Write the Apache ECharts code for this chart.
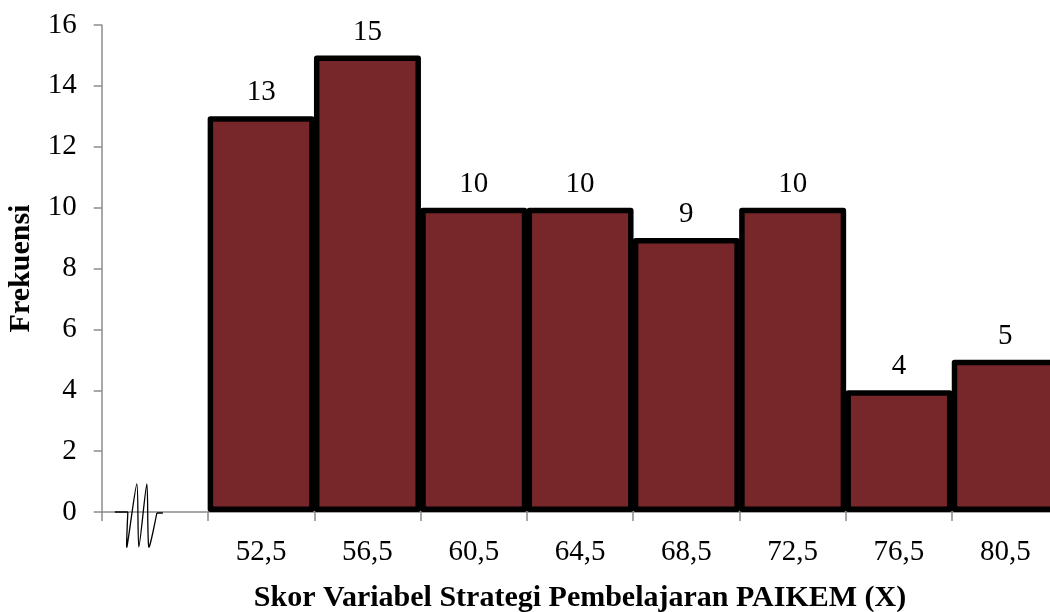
<!DOCTYPE html>
<html>
<head>
<meta charset="utf-8">
<script src="https://cdn.jsdelivr.net/npm/echarts@6/dist/echarts.min.js"></script>
<style>
  html, body { margin: 0; padding: 0; background: #ffffff; }
  #chart { width: 1050px; height: 612px; }
</style>
</head>
<body>
<div id="chart"></div>
<script>
// Histogram of PAIKEM strategy scores (class midpoints) and their frequencies.
// The first, empty category holds the axis-break mark.
const categories = ['', '52,5', '56,5', '60,5', '64,5', '68,5', '72,5', '76,5', '80,5'];
const frequencies = ['-', 13, 15, 10, 10, 9, 10, 4, 5];
const yTicks = { min: 0, max: 16, interval: 2 };

const FONT = '"Liberation Serif", "Times New Roman", serif';

const chart = echarts.init(document.getElementById('chart'));

chart.setOption({
  backgroundColor: '#ffffff',
  animation: false,
  grid: {
    left: 101.7, top: 25, width: 956.7, bottom: 100,
    containLabel: false, outerBoundsMode: 'none'
  },
  xAxis: {
    type: 'category',
    data: categories,
    boundaryGap: true,
    name: 'Skor Variabel Strategi Pembelajaran PAIKEM (X)',
    nameLocation: 'middle',
    nameGap: 71,
    nameTextStyle: { fontFamily: FONT, fontWeight: 'bold', fontSize: 30, color: '#000' },
    axisLine: { lineStyle: { color: '#8c8c8c', width: 1.5 } },
    axisTick: { show: true, length: 9, lineStyle: { color: '#8c8c8c', width: 1.5 } },
    axisLabel: { fontFamily: FONT, fontSize: 29, color: '#000', margin: 26 },
    splitLine: { show: false }
  },
  yAxis: {
    type: 'value',
    min: yTicks.min,
    max: yTicks.max,
    interval: yTicks.interval,
    name: 'Frekuensi',
    nameLocation: 'middle',
    nameGap: 65,
    nameRotate: 90,
    nameTextStyle: { fontFamily: FONT, fontWeight: 'bold', fontSize: 30, color: '#000' },
    axisLine: { show: true, lineStyle: { color: '#8c8c8c', width: 1.5 } },
    axisTick: { show: true, length: 8, lineStyle: { color: '#8c8c8c', width: 1.5 } },
    axisLabel: { fontFamily: FONT, fontSize: 29, color: '#000', margin: 25 },
    splitLine: { show: false }
  },
  series: [{
    type: 'bar',
    data: frequencies,
    // a hair wider than the band so neighbouring outlines merge into one line
    barWidth: 107,
    barGap: 0,
    itemStyle: { color: '#77272a', borderColor: '#000', borderWidth: 5.5, borderJoin: 'round' },
    label: {
      show: true,
      position: 'top',
      distance: 9,
      fontFamily: FONT,
      fontSize: 29,
      color: '#000'
    }
  }]
});

// Axis-break squiggle drawn just right of the origin, inside the empty first category.
function drawBreak() {
  const origin = chart.convertToPixel({ gridIndex: 0 }, [0, 0]);
  const ox = origin[0] - 17;
  const oy = origin[1];
  const pts = [[-10, 0], [-11, 35], [-1, -28], [1, 35], [9, -28], [11, 35], [19, 1]]
    .map(p => [ox + p[0], oy + p[1]]);
  chart.setOption({
    graphic: [
      { type: 'line', shape: { x1: ox - 23, y1: oy, x2: ox - 10, y2: oy },
        style: { stroke: '#000', lineWidth: 1.5 }, z: 100 },
      { type: 'polyline', shape: { points: pts, smooth: 0.25 },
        style: { stroke: '#000', lineWidth: 1.3, fill: null }, z: 100 },
      { type: 'line', shape: { x1: ox + 19, y1: oy + 1, x2: ox + 25, y2: oy + 1 },
        style: { stroke: '#000', lineWidth: 1.5 }, z: 100 }
    ]
  });
}
drawBreak();
</script>
</body>
</html>
